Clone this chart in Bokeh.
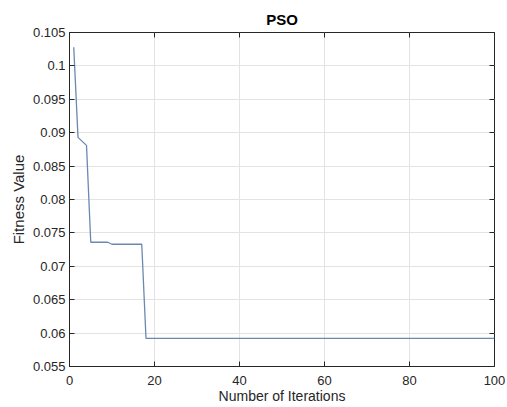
from bokeh.plotting import figure
from bokeh.models import FixedTicker, LinearAxis, Range1d, CustomLabelingPolicy
from bokeh.embed import file_html
from bokeh.resources import INLINE

# data
iterations = [1, 2, 4, 5, 9, 10, 17, 18, 100]
fitness = [0.1028, 0.0893, 0.0881, 0.0736, 0.0736, 0.0733, 0.0733, 0.0592, 0.0592]

xticks = [0, 20, 40, 60, 80, 100]
yticks = [0.055, 0.06, 0.065, 0.07, 0.075, 0.08, 0.085, 0.09, 0.095, 0.1, 0.105]
ytick_labels = ["0.055", "0.06", "0.065", "0.07", "0.075", "0.08", "0.085", "0.09", "0.095", "0.1", "0.105"]

FONT = "Liberation Sans"
DARK = "#262626"

p = figure(width=507, height=407, output_backend="svg", toolbar_location=None,
           x_range=Range1d(0, 100), y_range=Range1d(0.055, 0.105),
           min_border_left=69, min_border_right=13, min_border_top=32, min_border_bottom=41,
           title="PSO")
p.title.align = "center"
p.title.text_font = FONT
p.title.text_font_size = "15px"
p.title.text_font_style = "bold"
p.title.text_color = "#000000"

p.line(iterations, fitness, line_color="#6a89b0", line_width=1.3)

p.outline_line_color = DARK
p.outline_line_width = 1
p.background_fill_color = "white"
p.border_fill_color = "white"

for ax in p.xaxis + p.yaxis:
    ax.major_tick_in = 5
    ax.major_tick_out = 0
    ax.minor_tick_line_color = None
    ax.axis_line_color = DARK
    ax.major_tick_line_color = DARK
    ax.major_label_text_font = FONT
    ax.major_label_text_font_size = "13px"
    ax.major_label_text_color = DARK
    ax.axis_label_text_font = FONT
    ax.axis_label_text_font_style = "normal"
    ax.axis_label_text_color = DARK

p.xaxis.ticker = FixedTicker(ticks=xticks)
p.yaxis.ticker = FixedTicker(ticks=yticks)
p.yaxis.major_label_overrides = dict(zip(yticks, ytick_labels))
p.xaxis.axis_label = "Number of Iterations"
p.yaxis.axis_label = "Fitness Value"
p.xaxis.axis_label_text_font_size = "14px"
p.yaxis.axis_label_text_font_size = "15px"
p.xaxis.axis_label_standoff = 0
p.yaxis.axis_label_standoff = 3
p.xaxis.major_label_standoff = 9
p.yaxis.major_label_standoff = 4

p.xgrid.ticker = FixedTicker(ticks=xticks)
p.ygrid.ticker = FixedTicker(ticks=yticks)
p.grid.grid_line_color = "#e3e3e3"
p.grid.grid_line_width = 1

# mirror ticks on top and right (labels suppressed by a labeling policy)
no_labels = "for (const i of indices) indices.unset(i)\nreturn indices"
top = LinearAxis(ticker=FixedTicker(ticks=xticks),
                 major_label_policy=CustomLabelingPolicy(code=no_labels),
                 major_label_text_font_size="0px",
                 major_tick_in=5, major_tick_out=0, minor_tick_line_color=None,
                 axis_line_color=None, major_tick_line_color=DARK, major_label_standoff=0)
right = LinearAxis(ticker=FixedTicker(ticks=yticks),
                   major_label_policy=CustomLabelingPolicy(code=no_labels),
                   major_label_text_font_size="0px",
                   major_tick_in=5, major_tick_out=0, minor_tick_line_color=None,
                   axis_line_color=None, major_tick_line_color=DARK, major_label_standoff=0)
p.add_layout(top, "above")
p.add_layout(right, "right")

open("out.html", "w").write(file_html(p, INLINE))
